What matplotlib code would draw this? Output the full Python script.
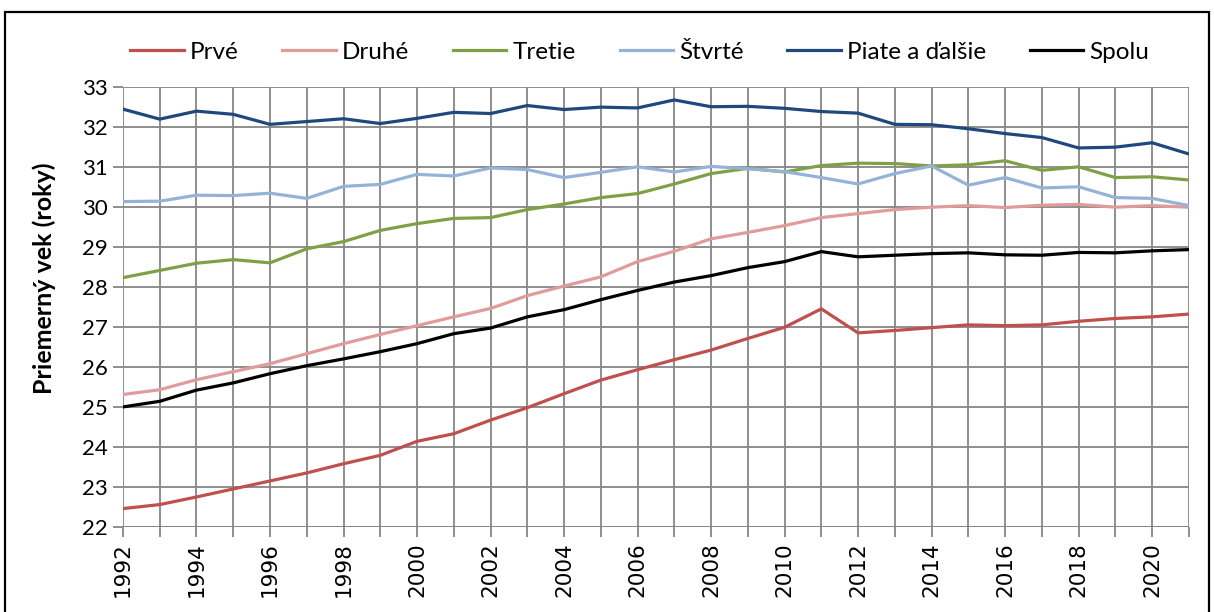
import numpy as np
import matplotlib
matplotlib.use("Agg")
import matplotlib.pyplot as plt
from matplotlib.patches import Rectangle

years = list(range(1992, 2022))

prve = [22.46, 22.56, 22.75, 22.95, 23.15, 23.35, 23.58, 23.79, 24.14, 24.33,
        24.67, 24.98, 25.33, 25.67, 25.93, 26.18, 26.42, 26.71, 26.99, 27.45,
        26.85, 26.91, 26.98, 27.05, 27.03, 27.05, 27.14, 27.21, 27.25, 27.32]
druhe = [25.31, 25.43, 25.68, 25.88, 26.08, 26.33, 26.58, 26.81, 27.03, 27.25,
         27.46, 27.78, 28.02, 28.25, 28.63, 28.89, 29.2, 29.36, 29.53, 29.73,
         29.83, 29.93, 29.99, 30.03, 29.98, 30.04, 30.06, 29.99, 30.03, 29.99]
tretie = [28.23, 28.41, 28.59, 28.68, 28.6, 28.95, 29.13, 29.41, 29.58, 29.71,
          29.73, 29.93, 30.07, 30.23, 30.33, 30.57, 30.83, 30.96, 30.87, 31.03,
          31.09, 31.08, 31.02, 31.05, 31.15, 30.91, 31.0, 30.73, 30.75, 30.67]
stvrte = [30.13, 30.14, 30.29, 30.28, 30.34, 30.21, 30.51, 30.56, 30.81, 30.77,
          30.97, 30.93, 30.73, 30.86, 31.0, 30.87, 31.01, 30.95, 30.88, 30.73,
          30.57, 30.83, 31.02, 30.54, 30.73, 30.47, 30.5, 30.23, 30.21, 30.03]
piate = [32.44, 32.19, 32.39, 32.31, 32.06, 32.13, 32.2, 32.08, 32.21, 32.36,
         32.33, 32.53, 32.43, 32.49, 32.47, 32.67, 32.5, 32.51, 32.46, 32.38,
         32.34, 32.06, 32.05, 31.95, 31.83, 31.73, 31.47, 31.49, 31.6, 31.32]
spolu = [25.0, 25.14, 25.42, 25.6, 25.83, 26.03, 26.2, 26.38, 26.58, 26.83,
         26.97, 27.25, 27.43, 27.68, 27.91, 28.12, 28.28, 28.48, 28.63, 28.88,
         28.75, 28.79, 28.83, 28.85, 28.8, 28.79, 28.86, 28.85, 28.9, 28.93]

labels = ["Prvé", "Druhé", "Tretie", "Štvrté", "Piate a ďalšie", "Spolu"]
colors = ["#C0504D", "#E19B9B", "#7FA146", "#95B3D7", "#1F497D", "#000000"]

font = ["Lato", "DejaVu Sans"]

fig = plt.figure(figsize=(12.14, 6.12), dpi=100)
ax = fig.add_axes([0.1013, 0.1389, 0.878, 0.7194])

for vals, lab, col in zip([prve, druhe, tretie, stvrte, piate, spolu], labels, colors):
    ax.plot(years, vals, color=col, lw=2.3, label=lab, solid_joinstyle="miter")

ax.set_xlim(1992, 2021)
ax.set_ylim(22, 33)
ax.set_xticks(years)
ax.set_xticklabels([str(y) if y % 2 == 0 else "" for y in years],
                   rotation=90, fontsize=15.5, family="DejaVu Sans")
ax.set_yticks(range(22, 34))
ax.set_yticklabels([str(v) for v in range(22, 34)], fontsize=16, family=font)
ax.grid(True, color="#868686", lw=1.3)
ax.set_axisbelow(True)
for s in ax.spines.values():
    s.set_visible(False)
ax.tick_params(axis="both", length=7, width=1.3, color="#868686", pad=4)
ax.axhline(22, color="#868686", lw=2, zorder=0)

ax.set_ylabel("Priemerný vek (roky)", fontsize=18, fontweight="bold", family=font)
ax.yaxis.set_label_coords(-0.063, 0.565)

leg = fig.legend(loc="center", bbox_to_anchor=(0.527, 0.915), ncol=6, frameon=False,
                 prop={"family": font, "size": 17.5}, handlelength=2.2,
                 handletextpad=0.25, columnspacing=1.8)

fig.patches.append(Rectangle((5 / 1214, -0.1), 1204 / 1214, 1.1 - 12 / 612,
                             transform=fig.transFigure, fill=False,
                             edgecolor="black", lw=1.6))

fig.savefig("out.png", dpi=100)
